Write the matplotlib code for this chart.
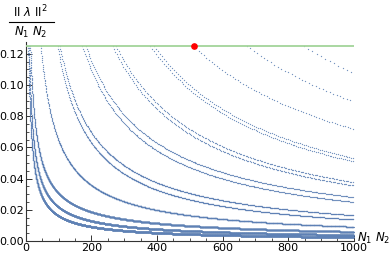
import numpy as np
import matplotlib.pyplot as plt
from matplotlib.lines import Line2D

# each family: x where it leaves the cap line, and its value at x = 1000
curve_start = [8, 10, 14, 46, 97, 104, 173, 183, 265, 275, 380, 390, 511, 674, 847]
curve_end = [0.0025, 0.0038, 0.0059, 0.0091, 0.0138, 0.0165, 0.025, 0.0281,
             0.0355, 0.0377, 0.051, 0.053, 0.0718, 0.0893, 0.1075]
x_max = 1000
y_cap = 0.125
red_point = (512, 0.125)

W, H = 390, 259
fig = plt.figure(figsize=(W / 100, H / 100), dpi=100)
ax = fig.add_axes([25.7 / W, 18 / H, 328 / W, 199 / H])

blue = '#5e81b5'
for x0, y1 in zip(curve_start, curve_end):
    p = np.log(y_cap / y1) / np.log(x_max / x0)
    step = max(x0 / 64.0, 0.05)
    xs = np.arange(x0, x_max + step, step)
    xs = xs[xs <= x_max]
    ax.plot(xs, y_cap * (xs / x0) ** (-p), linestyle='none', marker='o',
            markersize=0.95, markeredgewidth=0, color=blue, alpha=0.85)

ax.plot([0, x_max], [y_cap, y_cap], color='#a3d49a', lw=1.3, zorder=3)
ax.plot([red_point[0]], [red_point[1]], 'o', color='red', markersize=3.8, zorder=4)

ax.set_xlim(0, 1000)
ax.set_ylim(0, 0.1275)
for s in ['top', 'right']:
    ax.spines[s].set_visible(False)
for s in ['left', 'bottom']:
    ax.spines[s].set_color('#333333')
    ax.spines[s].set_linewidth(0.8)

ax.set_xticks(np.arange(0, 1001, 200))
ax.set_xticks(np.arange(0, 1001, 50), minor=True)
ax.set_yticks(np.arange(0, 0.121, 0.02))
ax.set_yticks(np.arange(0, 0.1251, 0.005), minor=True)
ax.set_yticklabels(['%.2f' % v for v in np.arange(0, 0.121, 0.02)])
ax.tick_params(which='both', direction='in', color='#333333', labelsize=8, pad=1.5)
ax.tick_params(which='major', length=4, width=0.7)
ax.tick_params(which='minor', length=2, width=0.6)

fig.text(357 / W, 1 - 238 / H, r'$N_1\ N_2$', fontsize=8.5, va='center', ha='left')
fig.text(31 / W, 1 - 12 / H, r'$\mathrm{II}\ \lambda\ \mathrm{II}^2$', fontsize=8.5,
         va='center', ha='center')
fig.text(31 / W, 1 - 32 / H, r'$N_1\ N_2$', fontsize=8.5, va='center', ha='center')
fig.add_artist(Line2D([9 / W, 54 / W], [1 - 22 / H, 1 - 22 / H], color='black', lw=0.8))

fig.savefig('out.png', dpi=100)
